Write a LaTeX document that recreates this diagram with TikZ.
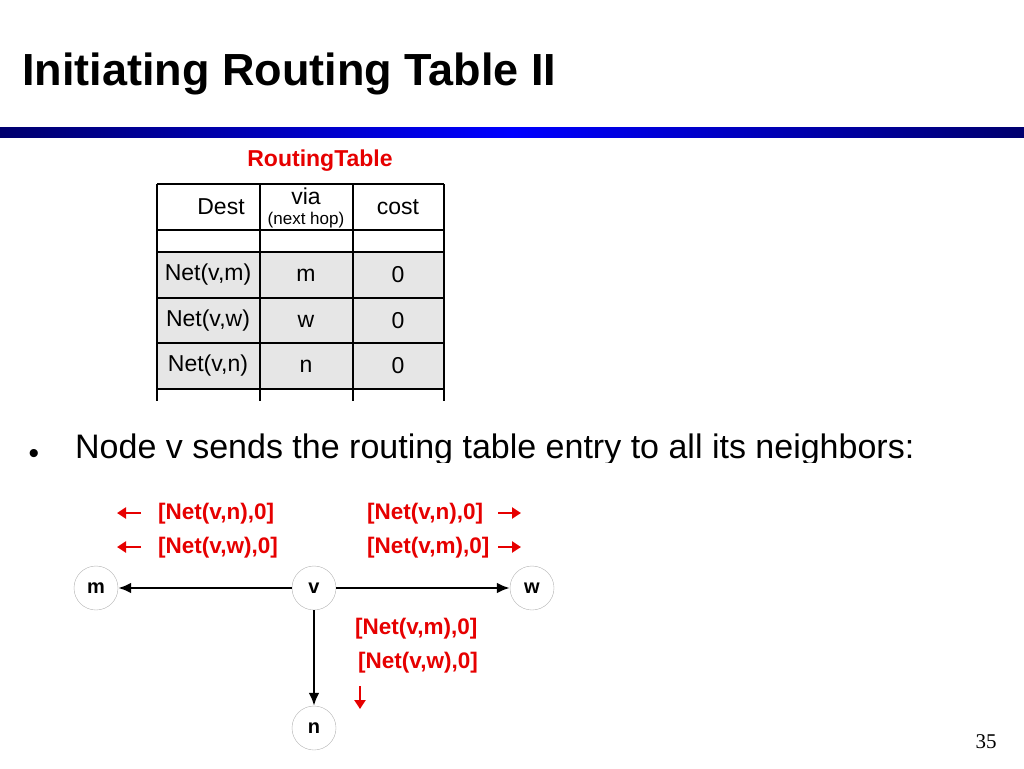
\documentclass[tikz,border=0pt]{standalone}
\usepackage{fontspec}
\setmainfont{Liberation Sans}
\newfontfamily\pagefont{Liberation Serif}
\usetikzlibrary{positioning,arrows.meta}
\definecolor{barnavy}{RGB}{0,0,110}
\definecolor{barblue}{RGB}{0,0,255}
\definecolor{msgred}{RGB}{230,0,0}
\definecolor{cellgray}{RGB}{230,230,230}

\begin{document}
\begin{tikzpicture}[x=1pt, y=-1pt, node distance=218pt,
    router/.style={circle, draw=gray!60, minimum size=44pt, inner sep=0pt,
        font=\fontsize{20}{20}\selectfont\bfseries},
    msg/.style={text=msgred, anchor=west, inner sep=0pt,
        font=\fontsize{22.5}{22.5}\selectfont\bfseries},
    cell/.style={inner sep=0pt, font=\fontsize{23}{23}\selectfont},
    link/.style={->, >={Latex[length=13pt,width=11pt]}, line width=2.7pt},
    msgarrow/.style={->, >={Triangle[length=9pt,width=11pt]}, draw=msgred, line width=2.8pt}]

    \useasboundingbox (0,0) rectangle (1024,768);

    % title and bar
    \node [anchor=base west, inner sep=0pt, font=\fontsize{45}{45}\selectfont\bfseries] (title) at (22,85) {Initiating Routing Table II};
    \shade [left color=barnavy, right color=barnavy, middle color=barblue] (0,127) rectangle (1024,137);

    % routing table
    \node [text=msgred, inner sep=0pt, font=\fontsize{23}{23}\selectfont\bfseries] (tabtitle) at (320,161) {RoutingTable};
    \fill [cellgray] (157,252) rectangle (444,389);
    \draw [line width=1.3pt] (157,184) -- (444,184);
    \foreach \y in {230,252,298,343,389}
        \draw [line width=1.3pt] (157,\y) -- (444,\y);
    \foreach \x in {157,260,353,444}
        \draw [line width=1.3pt] (\x,184) -- (\x,401);

    \node [cell] (hdest) at (221,207) {Dest};
    \node [cell] (hvia) at (306,196) {via};
    \node [cell, font=\fontsize{17}{17}\selectfont] (hnext) at (306,220) {(next hop)};
    \node [cell] (hcost) at (398,207) {cost};

    \node [cell] (dm) at (208,275) {Net(v,m)};
    \node [cell] (vm) at (306,275) {m};
    \node [cell] (cm) at (398,275) {0};
    \node [cell] (dw) at (208,321) {Net(v,w)};
    \node [cell] (vw) at (306,321) {w};
    \node [cell] (cw) at (398,321) {0};
    \node [cell] (dn) at (208,366) {Net(v,n)};
    \node [cell] (vn) at (306,366) {n};
    \node [cell] (cn) at (398,366) {0};

    % bullet line (cut at the bottom as in the slide)
    \begin{scope}
        \clip (0,420) rectangle (1024,462);
        \node [inner sep=0pt, font=\fontsize{30}{30}\selectfont] (bullet) at (34,456) {\textbullet};
        \node [anchor=base west, inner sep=0pt, font=\fontsize{34}{34}\selectfont] (sentence) at (75,458) {Node v sends the routing table entry to all its neighbors:};
    \end{scope}

    % network
    \node [router] (m) at (96,588) {m};
    \node [router] (v) [right of=m] {v};
    \node [router] (w) [right of=v] {w};
    \node [router] (n) [below of=v, node distance=140pt] {n};

    \draw [link] (v) -- (m);
    \draw [link] (v) -- (w);
    \draw [link] (v) -- (n);

    % messages to m
    \node [msg] (tomn) at (158,514) {[Net(v,n),0]};
    \node [msg] (tomw) at (158,548) {[Net(v,w),0]};
    \coordinate (tomna) at (141,513);
    \coordinate (tomnb) at (117,513);
    \coordinate (tomwa) at (141,547);
    \coordinate (tomwb) at (117,547);
    \draw [msgarrow] (tomna) -- (tomnb);
    \draw [msgarrow] (tomwa) -- (tomwb);

    % messages to w
    \node [msg] (town) at (367,514) {[Net(v,n),0]};
    \node [msg] (towm) at (367,548) {[Net(v,m),0]};
    \coordinate (towna) at (498,513);
    \coordinate (townb) at (521,513);
    \coordinate (towma) at (498,547);
    \coordinate (towmb) at (521,547);
    \draw [msgarrow] (towna) -- (townb);
    \draw [msgarrow] (towma) -- (towmb);

    % messages to n
    \node [msg] (tonm) at (355,629) {[Net(v,m),0]};
    \node [msg] (tonw) at (358,663) {[Net(v,w),0]};
    \coordinate (tona) at (360,686);
    \coordinate (tonb) at (360,709);
    \draw [msgarrow] (tona) -- (tonb);

    \node [inner sep=0pt, font=\fontsize{21}{21}\selectfont\pagefont] (pagenum) at (986,742) {35};

\end{tikzpicture}
\end{document}
